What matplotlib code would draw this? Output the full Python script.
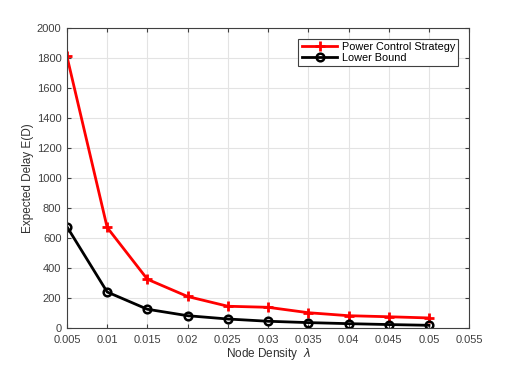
import matplotlib
matplotlib.use('Agg')
import matplotlib.pyplot as plt
import numpy as np

plt.rcParams['font.family'] = ['Liberation Sans', 'DejaVu Sans']

# node density values
density = [0.005, 0.01, 0.015, 0.02, 0.025, 0.03, 0.035, 0.04, 0.045, 0.05]
# expected delay
power_control = [1810, 670, 325, 210, 145, 138, 102, 82, 75, 67]
lower_bound = [675, 240, 125, 82, 60, 45, 36, 29, 23, 18]

xticks = [0.005, 0.01, 0.015, 0.02, 0.025, 0.03, 0.035, 0.04, 0.045, 0.05, 0.055]
xticklabels = ['0.005', '0.01', '0.015', '0.02', '0.025', '0.03', '0.035', '0.04', '0.045', '0.05', '0.055']
yticks = np.arange(0, 2001, 200)

fig = plt.figure(figsize=(5.19, 3.70), dpi=100)
ax = fig.add_axes([0.129, 0.1135, 0.775, 0.811])

ax.plot(density, power_control, color='red', lw=2, marker='+', ms=7, mew=2,
        label='Power Control Strategy')
ax.plot(density, lower_bound, color='black', lw=2, marker='o', ms=5.5, mew=1.8,
        mfc='none', label='Lower Bound')

ax.set_xlim(0.005, 0.055)
ax.set_ylim(0, 2000)
ax.set_xticks(xticks)
ax.set_xticklabels(xticklabels)
ax.set_yticks(yticks)
ax.grid(True, color='#e3e3e3', lw=0.8)
ax.set_axisbelow(True)
ax.tick_params(direction='in', labelsize=8, colors='#404040', length=3, width=0.8,
               top=True, right=True)
ax.tick_params(axis='x', pad=5)
ax.tick_params(axis='y', pad=4)
for s in ax.spines.values():
    s.set_color('#404040')
    s.set_linewidth(0.8)

ax.set_xlabel('Node Density  $\\lambda$', fontsize=8.5, color='#303030', labelpad=1)
ax.set_ylabel('Expected Delay E(D)', fontsize=8.5, color='#303030', labelpad=2)

leg = ax.legend(loc='upper right', fontsize=7.8, fancybox=False, framealpha=1,
                edgecolor='#404040', handlelength=3.3, borderpad=0.3,
                labelspacing=0.05, handletextpad=0.4, borderaxespad=1.0)
leg.get_frame().set_linewidth(0.8)

plt.savefig('out.png', dpi=100)
